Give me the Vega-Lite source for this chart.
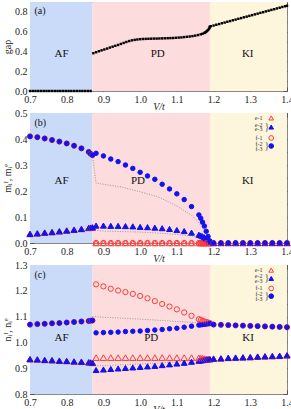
{
"$schema": "https://vega.github.io/schema/vega-lite/v6.json",
"padding": {"left": 2, "top": 1, "right": 5, "bottom": 0},
"bounds": "flush",
"spacing": 22,
"config": {
  "font": "Liberation Serif",
  "view": {"stroke": "#888", "strokeWidth": 1},
  "axis": {"labelFont": "Liberation Serif", "labelFontSize": 10, "labelColor": "#222", "titleFont": "Liberation Serif", "titleFontSize": 10, "titleFontWeight": "normal", "titleColor": "#222", "tickColor": "#555", "tickSize": -4, "labelPadding": 7, "domain": false, "grid": false, "labelFlush": false, "labelOverlap": false, "zindex": 1}
},
"resolve": {"scale": {"shape": "independent", "fill": "independent", "stroke": "independent", "size": "independent", "color": "independent"}},
"datasets": {
  "regions": [{"x0": 0.7, "x1": 0.87, "r": "AF"}, {"x0": 0.87, "x1": 1.19, "r": "PD"}, {"x0": 1.19, "x1": 1.4, "r": "KI"}],
  "lab_a": [{"x": 0.786, "y": 0.376, "t": "AF"}, {"x": 1.048, "y": 0.376, "t": "PD"}, {"x": 1.293, "y": 0.376, "t": "KI"}],
  "lab_b": [{"x": 0.786, "y": 0.237, "t": "AF"}, {"x": 0.994, "y": 0.237, "t": "PD"}, {"x": 1.293, "y": 0.237, "t": "KI"}],
  "lab_c": [{"x": 0.786, "y": 1.018, "t": "AF"}, {"x": 1.03, "y": 1.018, "t": "PD"}, {"x": 1.294, "y": 1.018, "t": "KI"}],
  "pa": [{"x": 0.712, "y": 0.81, "t": "(a)"}],
  "pb": [{"x": 0.712, "y": 0.46, "t": "(b)"}],
  "pc": [{"x": 0.712, "y": 1.26, "t": "(c)"}],
  "legb_sym": [{"x": 1.357, "y": 0.481, "s": "e1"}, {"x": 1.357, "y": 0.446, "s": "e23"}, {"x": 1.357, "y": 0.404, "s": "f1"}, {"x": 1.357, "y": 0.373, "s": "f23"}],
  "legb_txt": [{"x": 1.333, "y": 0.481, "t": "e-1"}, {"x": 1.333, "y": 0.455, "t": "e-2"}, {"x": 1.333, "y": 0.438, "t": "e-3"}, {"x": 1.333, "y": 0.404, "t": "f-1"}, {"x": 1.333, "y": 0.381, "t": "f-2"}, {"x": 1.333, "y": 0.363, "t": "f-3"}],
  "legb_br": [{"x": 1.339, "y": 0.446, "t": "}"}, {"x": 1.339, "y": 0.372, "t": "}"}],
  "legc_sym": [{"x": 1.357, "y": 1.280, "s": "e1"}, {"x": 1.357, "y": 1.248, "s": "e23"}, {"x": 1.357, "y": 1.209, "s": "f1"}, {"x": 1.357, "y": 1.179, "s": "f23"}],
  "legc_txt": [{"x": 1.333, "y": 1.280, "t": "e-1"}, {"x": 1.333, "y": 1.257, "t": "e-2"}, {"x": 1.333, "y": 1.239, "t": "e-3"}, {"x": 1.333, "y": 1.209, "t": "f-1"}, {"x": 1.333, "y": 1.187, "t": "f-2"}, {"x": 1.333, "y": 1.170, "t": "f-3"}],
  "legc_br": [{"x": 1.339, "y": 1.248, "t": "}"}, {"x": 1.339, "y": 1.178, "t": "}"}],
  "gap": [
    {"V": 0.7, "g": 0}, {"V": 0.7075, "g": 0}, {"V": 0.715, "g": 0}, {"V": 0.7225, "g": 0}, {"V": 0.73, "g": 0}, {"V": 0.7375, "g": 0}, {"V": 0.745, "g": 0}, {"V": 0.7525, "g": 0}, {"V": 0.76, "g": 0}, {"V": 0.7675, "g": 0}, {"V": 0.775, "g": 0}, {"V": 0.7825, "g": 0}, {"V": 0.79, "g": 0}, {"V": 0.7975, "g": 0}, {"V": 0.805, "g": 0}, {"V": 0.8125, "g": 0}, {"V": 0.82, "g": 0}, {"V": 0.8275, "g": 0}, {"V": 0.835, "g": 0}, {"V": 0.8425, "g": 0}, {"V": 0.85, "g": 0}, {"V": 0.8575, "g": 0}, {"V": 0.865, "g": 0},
    {"V": 0.8725, "g": 0.382}, {"V": 0.88, "g": 0.392}, {"V": 0.8875, "g": 0.402}, {"V": 0.895, "g": 0.411}, {"V": 0.9025, "g": 0.42}, {"V": 0.91, "g": 0.429}, {"V": 0.9175, "g": 0.439}, {"V": 0.925, "g": 0.448}, {"V": 0.9325, "g": 0.457}, {"V": 0.94, "g": 0.466}, {"V": 0.9475, "g": 0.476}, {"V": 0.955, "g": 0.486}, {"V": 0.9625, "g": 0.496}, {"V": 0.97, "g": 0.505}, {"V": 0.9775, "g": 0.512}, {"V": 0.985, "g": 0.517}, {"V": 0.9925, "g": 0.521}, {"V": 1.0, "g": 0.524}, {"V": 1.0075, "g": 0.526}, {"V": 1.015, "g": 0.527}, {"V": 1.0225, "g": 0.528}, {"V": 1.03, "g": 0.529}, {"V": 1.0375, "g": 0.53}, {"V": 1.045, "g": 0.53}, {"V": 1.0525, "g": 0.531}, {"V": 1.06, "g": 0.532}, {"V": 1.0675, "g": 0.533}, {"V": 1.075, "g": 0.534}, {"V": 1.0825, "g": 0.535}, {"V": 1.09, "g": 0.536}, {"V": 1.0975, "g": 0.538}, {"V": 1.105, "g": 0.54}, {"V": 1.1125, "g": 0.542}, {"V": 1.12, "g": 0.545}, {"V": 1.1275, "g": 0.548}, {"V": 1.135, "g": 0.551}, {"V": 1.1425, "g": 0.555}, {"V": 1.15, "g": 0.56}, {"V": 1.1575, "g": 0.566}, {"V": 1.165, "g": 0.573}, {"V": 1.17, "g": 0.579}, {"V": 1.175, "g": 0.587}, {"V": 1.1775, "g": 0.593}, {"V": 1.18, "g": 0.6}, {"V": 1.1825, "g": 0.608}, {"V": 1.185, "g": 0.617}, {"V": 1.1875, "g": 0.628}, {"V": 1.189, "g": 0.64}, {"V": 1.19, "g": 0.652},
    {"V": 1.1925, "g": 0.655}, {"V": 1.2, "g": 0.662}, {"V": 1.2075, "g": 0.67}, {"V": 1.215, "g": 0.677}, {"V": 1.2225, "g": 0.685}, {"V": 1.23, "g": 0.692}, {"V": 1.2375, "g": 0.7}, {"V": 1.245, "g": 0.707}, {"V": 1.2525, "g": 0.715}, {"V": 1.26, "g": 0.722}, {"V": 1.2675, "g": 0.73}, {"V": 1.275, "g": 0.737}, {"V": 1.2825, "g": 0.745}, {"V": 1.29, "g": 0.752}, {"V": 1.2975, "g": 0.76}, {"V": 1.305, "g": 0.767}, {"V": 1.3125, "g": 0.775}, {"V": 1.32, "g": 0.782}, {"V": 1.3275, "g": 0.79}, {"V": 1.335, "g": 0.797}, {"V": 1.3425, "g": 0.805}, {"V": 1.35, "g": 0.812}, {"V": 1.3575, "g": 0.82}, {"V": 1.365, "g": 0.827}, {"V": 1.3725, "g": 0.835}, {"V": 1.38, "g": 0.842}, {"V": 1.3875, "g": 0.85}, {"V": 1.395, "g": 0.857}, {"V": 1.4, "g": 0.862}
  ],
  "b": [
    {"V": 0.70, "e1": 0.035, "e23": 0.035, "f1": 0.410, "f23": 0.410},
    {"V": 0.72, "e1": 0.037, "e23": 0.037, "f1": 0.407, "f23": 0.407},
    {"V": 0.74, "e1": 0.040, "e23": 0.040, "f1": 0.402, "f23": 0.402},
    {"V": 0.76, "e1": 0.042, "e23": 0.042, "f1": 0.396, "f23": 0.396},
    {"V": 0.78, "e1": 0.045, "e23": 0.045, "f1": 0.390, "f23": 0.390},
    {"V": 0.80, "e1": 0.048, "e23": 0.048, "f1": 0.383, "f23": 0.383},
    {"V": 0.82, "e1": 0.051, "e23": 0.051, "f1": 0.374, "f23": 0.374},
    {"V": 0.84, "e1": 0.054, "e23": 0.054, "f1": 0.364, "f23": 0.364},
    {"V": 0.86, "e1": 0.058, "e23": 0.058, "f1": 0.350, "f23": 0.350},
    {"V": 0.865, "e1": 0.059, "e23": 0.059, "f1": 0.343, "f23": 0.343},
    {"V": 0.87, "e1": 0.060, "e23": 0.060, "f1": 0.338, "f23": 0.338},
    {"V": 0.88, "e1": 0, "e23": 0.067, "f1": 0, "f23": 0.345},
    {"V": 0.90, "e1": 0, "e23": 0.067, "f1": 0, "f23": 0.335},
    {"V": 0.92, "e1": 0, "e23": 0.066, "f1": 0, "f23": 0.323},
    {"V": 0.94, "e1": 0, "e23": 0.066, "f1": 0, "f23": 0.313},
    {"V": 0.96, "e1": 0, "e23": 0.065, "f1": 0, "f23": 0.300},
    {"V": 0.98, "e1": 0, "e23": 0.064, "f1": 0, "f23": 0.287},
    {"V": 1.00, "e1": 0, "e23": 0.062, "f1": 0, "f23": 0.272},
    {"V": 1.02, "e1": 0, "e23": 0.061, "f1": 0, "f23": 0.258},
    {"V": 1.04, "e1": 0, "e23": 0.059, "f1": 0, "f23": 0.245},
    {"V": 1.06, "e1": 0, "e23": 0.057, "f1": 0, "f23": 0.226},
    {"V": 1.08, "e1": 0, "e23": 0.054, "f1": 0, "f23": 0.208},
    {"V": 1.10, "e1": 0, "e23": 0.050, "f1": 0, "f23": 0.189},
    {"V": 1.12, "e1": 0, "e23": 0.046, "f1": 0, "f23": 0.167},
    {"V": 1.14, "e1": 0, "e23": 0.040, "f1": 0, "f23": 0.140},
    {"V": 1.16, "e1": 0, "e23": 0.032, "f1": 0, "f23": 0.108},
    {"V": 1.165, "e1": 0, "e23": 0.029, "f1": 0, "f23": 0.095},
    {"V": 1.17, "e1": 0, "e23": 0.026, "f1": 0, "f23": 0.080},
    {"V": 1.175, "e1": 0, "e23": 0.022, "f1": 0, "f23": 0.065},
    {"V": 1.18, "e1": 0, "e23": 0.017, "f1": 0, "f23": 0.045},
    {"V": 1.185, "e1": 0, "e23": 0.012, "f1": 0, "f23": 0.025},
    {"V": 1.19, "e1": 0, "e23": 0.005, "f1": 0, "f23": 0.008},
    {"V": 1.20, "e1": 0, "e23": 0, "f1": 0, "f23": 0},
    {"V": 1.22, "e1": 0, "e23": 0, "f1": 0, "f23": 0},
    {"V": 1.24, "e1": 0, "e23": 0, "f1": 0, "f23": 0},
    {"V": 1.26, "e1": 0, "e23": 0, "f1": 0, "f23": 0},
    {"V": 1.28, "e1": 0, "e23": 0, "f1": 0, "f23": 0},
    {"V": 1.30, "e1": 0, "e23": 0, "f1": 0, "f23": 0},
    {"V": 1.32, "e1": 0, "e23": 0, "f1": 0, "f23": 0},
    {"V": 1.34, "e1": 0, "e23": 0, "f1": 0, "f23": 0},
    {"V": 1.36, "e1": 0, "e23": 0, "f1": 0, "f23": 0},
    {"V": 1.38, "e1": 0, "e23": 0, "f1": 0, "f23": 0},
    {"V": 1.40, "e1": 0, "e23": 0, "f1": 0, "f23": 0}
  ],
  "c": [
    {"V": 0.70, "e1": 0.935, "e23": 0.935, "f1": 1.069, "f23": 1.069},
    {"V": 0.72, "e1": 0.934, "e23": 0.934, "f1": 1.071, "f23": 1.071},
    {"V": 0.74, "e1": 0.932, "e23": 0.932, "f1": 1.072, "f23": 1.072},
    {"V": 0.76, "e1": 0.931, "e23": 0.931, "f1": 1.074, "f23": 1.074},
    {"V": 0.78, "e1": 0.929, "e23": 0.929, "f1": 1.075, "f23": 1.075},
    {"V": 0.80, "e1": 0.928, "e23": 0.928, "f1": 1.077, "f23": 1.077},
    {"V": 0.82, "e1": 0.926, "e23": 0.926, "f1": 1.079, "f23": 1.079},
    {"V": 0.84, "e1": 0.925, "e23": 0.925, "f1": 1.081, "f23": 1.081},
    {"V": 0.86, "e1": 0.923, "e23": 0.923, "f1": 1.083, "f23": 1.083},
    {"V": 0.865, "e1": 0.922, "e23": 0.922, "f1": 1.084, "f23": 1.084},
    {"V": 0.87, "e1": 0.921, "e23": 0.921, "f1": 1.085, "f23": 1.085},
    {"V": 0.88, "e1": 0.941, "e23": 0.893, "f1": 1.225, "f23": 1.037},
    {"V": 0.90, "e1": 0.941, "e23": 0.895, "f1": 1.217, "f23": 1.038},
    {"V": 0.92, "e1": 0.941, "e23": 0.897, "f1": 1.208, "f23": 1.039},
    {"V": 0.94, "e1": 0.941, "e23": 0.899, "f1": 1.201, "f23": 1.040},
    {"V": 0.96, "e1": 0.941, "e23": 0.901, "f1": 1.195, "f23": 1.042},
    {"V": 0.98, "e1": 0.941, "e23": 0.903, "f1": 1.188, "f23": 1.043},
    {"V": 1.00, "e1": 0.941, "e23": 0.905, "f1": 1.180, "f23": 1.044},
    {"V": 1.02, "e1": 0.941, "e23": 0.907, "f1": 1.171, "f23": 1.046},
    {"V": 1.04, "e1": 0.941, "e23": 0.909, "f1": 1.160, "f23": 1.048},
    {"V": 1.06, "e1": 0.941, "e23": 0.912, "f1": 1.149, "f23": 1.050},
    {"V": 1.08, "e1": 0.941, "e23": 0.915, "f1": 1.139, "f23": 1.053},
    {"V": 1.10, "e1": 0.941, "e23": 0.918, "f1": 1.128, "f23": 1.055},
    {"V": 1.12, "e1": 0.941, "e23": 0.921, "f1": 1.116, "f23": 1.059},
    {"V": 1.14, "e1": 0.941, "e23": 0.925, "f1": 1.103, "f23": 1.063},
    {"V": 1.16, "e1": 0.940, "e23": 0.929, "f1": 1.090, "f23": 1.067},
    {"V": 1.165, "e1": 0.939, "e23": 0.930, "f1": 1.087, "f23": 1.068},
    {"V": 1.17, "e1": 0.938, "e23": 0.931, "f1": 1.084, "f23": 1.069},
    {"V": 1.175, "e1": 0.937, "e23": 0.932, "f1": 1.081, "f23": 1.070},
    {"V": 1.18, "e1": 0.936, "e23": 0.933, "f1": 1.079, "f23": 1.071},
    {"V": 1.185, "e1": 0.936, "e23": 0.934, "f1": 1.077, "f23": 1.072},
    {"V": 1.19, "e1": 0.935, "e23": 0.935, "f1": 1.075, "f23": 1.073},
    {"V": 1.20, "e1": 0.937, "e23": 0.937, "f1": 1.069, "f23": 1.069},
    {"V": 1.22, "e1": 0.938, "e23": 0.938, "f1": 1.068, "f23": 1.068},
    {"V": 1.24, "e1": 0.940, "e23": 0.940, "f1": 1.067, "f23": 1.067},
    {"V": 1.26, "e1": 0.941, "e23": 0.941, "f1": 1.066, "f23": 1.066},
    {"V": 1.28, "e1": 0.942, "e23": 0.942, "f1": 1.065, "f23": 1.065},
    {"V": 1.30, "e1": 0.943, "e23": 0.943, "f1": 1.064, "f23": 1.064},
    {"V": 1.32, "e1": 0.945, "e23": 0.945, "f1": 1.063, "f23": 1.063},
    {"V": 1.34, "e1": 0.946, "e23": 0.946, "f1": 1.062, "f23": 1.062},
    {"V": 1.36, "e1": 0.947, "e23": 0.947, "f1": 1.061, "f23": 1.061},
    {"V": 1.38, "e1": 0.948, "e23": 0.948, "f1": 1.060, "f23": 1.060},
    {"V": 1.40, "e1": 0.950, "e23": 0.950, "f1": 1.059, "f23": 1.059}
  ],
  "gb": [
    {"V": 0.87, "v": 0.338, "g": "f"}, {"V": 0.88, "v": 0.23, "g": "f"}, {"V": 0.90, "v": 0.226, "g": "f"}, {"V": 0.95, "v": 0.215, "g": "f"}, {"V": 1.00, "v": 0.197, "g": "f"}, {"V": 1.05, "v": 0.177, "g": "f"}, {"V": 1.10, "v": 0.142, "g": "f"}, {"V": 1.14, "v": 0.107, "g": "f"}, {"V": 1.16, "v": 0.078, "g": "f"}, {"V": 1.18, "v": 0.035, "g": "f"}, {"V": 1.19, "v": 0.005, "g": "f"},
    {"V": 0.87, "v": 0.05, "g": "e"}, {"V": 0.90, "v": 0.046, "g": "e"}, {"V": 1.00, "v": 0.042, "g": "e"}, {"V": 1.05, "v": 0.038, "g": "e"}, {"V": 1.10, "v": 0.033, "g": "e"}, {"V": 1.14, "v": 0.027, "g": "e"}, {"V": 1.16, "v": 0.02, "g": "e"}, {"V": 1.18, "v": 0.01, "g": "e"}, {"V": 1.19, "v": 0.003, "g": "e"}
  ],
  "gc": [
    {"V": 0.87, "v": 1.100, "g": "f"}, {"V": 0.95, "v": 1.094, "g": "f"}, {"V": 1.00, "v": 1.090, "g": "f"}, {"V": 1.05, "v": 1.086, "g": "f"}, {"V": 1.10, "v": 1.081, "g": "f"}, {"V": 1.15, "v": 1.077, "g": "f"}, {"V": 1.19, "v": 1.074, "g": "f"},
    {"V": 0.87, "v": 0.909, "g": "e"}, {"V": 0.95, "v": 0.913, "g": "e"}, {"V": 1.00, "v": 0.917, "g": "e"}, {"V": 1.05, "v": 0.920, "g": "e"}, {"V": 1.10, "v": 0.925, "g": "e"}, {"V": 1.15, "v": 0.930, "g": "e"}, {"V": 1.19, "v": 0.935, "g": "e"}
  ]
},
"vconcat": [
  {
    "width": 257, "height": 89,
    "resolve": {"axis": {"x": "independent", "y": "independent"}},
    "layer": [
      {"data": {"name": "regions"}, "mark": {"type": "rect"},
       "encoding": {"x": {"field": "x0", "type": "quantitative", "scale": {"domain": [0.7, 1.4], "nice": false, "zero": false}, "axis": null}, "x2": {"field": "x1"},
                    "color": {"field": "r", "type": "nominal", "scale": {"domain": ["AF", "PD", "KI"], "range": ["#c9dbf8", "#fcdcdc", "#fdf6dd"]}, "legend": null}}},
      {"data": {"name": "lab_a"}, "mark": {"type": "text", "font": "Liberation Serif", "fontSize": 11, "baseline": "middle", "color": "#111"},
       "encoding": {"x": {"field": "x", "type": "quantitative", "scale": {"domain": [0.7, 1.4], "nice": false, "zero": false}, "axis": {"orient": "top", "values": [0.7, 0.8, 0.9, 1.0, 1.1, 1.2, 1.3, 1.4], "labels": false, "title": null}},
                    "y": {"field": "y", "type": "quantitative", "scale": {"domain": [0, 0.9], "nice": false, "zero": false}, "axis": {"orient": "right", "values": [0, 0.1, 0.2, 0.3, 0.4, 0.5, 0.6, 0.7, 0.8], "labels": false, "title": null}},
                    "text": {"field": "t"}}},
      {"data": {"name": "gap"}, "mark": {"type": "square", "size": 6, "color": "#000", "opacity": 1},
       "encoding": {"x": {"field": "V", "type": "quantitative", "scale": {"domain": [0.7, 1.4], "nice": false, "zero": false}, "axis": {"orient": "bottom", "values": [0.7, 0.8, 0.9, 1.0, 1.1, 1.2, 1.3, 1.4], "format": ".1f", "title": "V/t", "titleFontStyle": "italic", "titlePadding": -3}},
                    "y": {"field": "g", "type": "quantitative", "scale": {"domain": [0, 0.9], "nice": false, "zero": false}, "axis": {"orient": "left", "values": [0, 0.1, 0.2, 0.3, 0.4, 0.5, 0.6, 0.7, 0.8], "labelExpr": "round(datum.value*10) % 2 == 0 ? format(datum.value, '.1f') : ''", "title": "gap", "titlePadding": 2}}}},
      {"data": {"name": "pa"}, "mark": {"type": "text", "font": "Liberation Serif", "fontSize": 10, "align": "left", "baseline": "middle", "color": "#111"},
       "encoding": {"x": {"field": "x", "type": "quantitative", "axis": null}, "y": {"field": "y", "type": "quantitative", "axis": null}, "text": {"field": "t"}}}
    ]
  },
  {
    "width": 257, "height": 130,
    "resolve": {"axis": {"x": "independent", "y": "independent"}},
    "layer": [
      {"data": {"name": "regions"}, "mark": {"type": "rect"},
       "encoding": {"x": {"field": "x0", "type": "quantitative", "scale": {"domain": [0.7, 1.4], "nice": false, "zero": false}, "axis": null}, "x2": {"field": "x1"},
                    "color": {"field": "r", "type": "nominal", "scale": {"domain": ["AF", "PD", "KI"], "range": ["#c9dbf8", "#fcdcdc", "#fdf6dd"]}, "legend": null}}},
      {"data": {"name": "lab_b"}, "mark": {"type": "text", "font": "Liberation Serif", "fontSize": 11, "baseline": "middle", "color": "#111"},
       "encoding": {"x": {"field": "x", "type": "quantitative", "scale": {"domain": [0.7, 1.4], "nice": false, "zero": false}, "axis": {"orient": "top", "values": [0.7, 0.8, 0.9, 1.0, 1.1, 1.2, 1.3, 1.4], "labels": false, "title": null}},
                    "y": {"field": "y", "type": "quantitative", "scale": {"domain": [0, 0.5], "nice": false, "zero": false}, "axis": {"orient": "right", "values": [0, 0.05, 0.1, 0.15, 0.2, 0.25, 0.3, 0.35, 0.4, 0.45, 0.5], "labels": false, "title": null}},
                    "text": {"field": "t"}}},
      {"data": {"name": "gb"}, "mark": {"type": "line", "color": "#999", "strokeWidth": 1, "strokeDash": [1, 1.5]},
       "encoding": {"x": {"field": "V", "type": "quantitative", "axis": null}, "y": {"field": "v", "type": "quantitative", "axis": null}, "detail": {"field": "g"}}},
      {"data": {"name": "b"}, "transform": [{"fold": ["e1", "e23", "f1", "f23"], "as": ["s", "v"]}],
       "mark": {"type": "point", "opacity": 1, "strokeWidth": 1},
       "encoding": {"x": {"field": "V", "type": "quantitative", "scale": {"domain": [0.7, 1.4], "nice": false, "zero": false}, "axis": {"orient": "bottom", "values": [0.7, 0.8, 0.9, 1.0, 1.1, 1.2, 1.3, 1.4], "format": ".1f", "title": "V/t", "titleFontStyle": "italic", "titlePadding": -3}},
                    "y": {"field": "v", "type": "quantitative", "scale": {"domain": [0, 0.5], "nice": false, "zero": false}, "axis": {"orient": "left", "values": [0, 0.05, 0.1, 0.15, 0.2, 0.25, 0.3, 0.35, 0.4, 0.45, 0.5], "labelExpr": "round(datum.value*20) % 2 == 0 ? format(datum.value, '.1f') : ''", "title": "mᵢᶠ, mᵢᵉ", "titlePadding": 2}},
                    "shape": {"field": "s", "type": "nominal", "scale": {"domain": ["e1", "e23", "f1", "f23"], "range": ["triangle-up", "triangle-up", "circle", "circle"]}, "legend": null},
                    "fill": {"field": "s", "type": "nominal", "scale": {"domain": ["e1", "e23", "f1", "f23"], "range": ["transparent", "#1212ee", "transparent", "#1212ee"]}, "legend": null},
                    "stroke": {"field": "s", "type": "nominal", "scale": {"domain": ["e1", "e23", "f1", "f23"], "range": ["#ff3a3a", "#1212ee", "#ff3a3a", "#1212ee"]}, "legend": null},
                    "size": {"field": "s", "type": "nominal", "scale": {"domain": ["e1", "e23", "f1", "f23"], "range": [42, 20, 40, 16]}, "legend": null}}},
      {"data": {"name": "legb_sym"}, "mark": {"type": "point", "opacity": 1, "strokeWidth": 1},
       "encoding": {"x": {"field": "x", "type": "quantitative", "axis": null}, "y": {"field": "y", "type": "quantitative", "axis": null},
                    "shape": {"field": "s", "type": "nominal", "legend": null}, "fill": {"field": "s", "type": "nominal", "legend": null}, "stroke": {"field": "s", "type": "nominal", "legend": null},
                    "size": {"value": 22}}},
      {"data": {"name": "legb_txt"}, "mark": {"type": "text", "font": "Liberation Serif", "fontSize": 6, "align": "right", "baseline": "middle", "color": "#333"},
       "encoding": {"x": {"field": "x", "type": "quantitative", "axis": null}, "y": {"field": "y", "type": "quantitative", "axis": null}, "text": {"field": "t"}}},
      {"data": {"name": "legb_br"}, "mark": {"type": "text", "font": "Liberation Serif", "fontSize": 10, "align": "left", "baseline": "middle", "color": "#555"},
       "encoding": {"x": {"field": "x", "type": "quantitative", "axis": null}, "y": {"field": "y", "type": "quantitative", "axis": null}, "text": {"field": "t"}}},
      {"data": {"name": "pb"}, "mark": {"type": "text", "font": "Liberation Serif", "fontSize": 10, "align": "left", "baseline": "middle", "color": "#111"},
       "encoding": {"x": {"field": "x", "type": "quantitative", "axis": null}, "y": {"field": "y", "type": "quantitative", "axis": null}, "text": {"field": "t"}}}
    ]
  },
  {
    "width": 257, "height": 129,
    "resolve": {"axis": {"x": "independent", "y": "independent"}},
    "layer": [
      {"data": {"name": "regions"}, "mark": {"type": "rect"},
       "encoding": {"x": {"field": "x0", "type": "quantitative", "scale": {"domain": [0.7, 1.4], "nice": false, "zero": false}, "axis": null}, "x2": {"field": "x1"},
                    "color": {"field": "r", "type": "nominal", "scale": {"domain": ["AF", "PD", "KI"], "range": ["#c9dbf8", "#fcdcdc", "#fdf6dd"]}, "legend": null}}},
      {"data": {"name": "lab_c"}, "mark": {"type": "text", "font": "Liberation Serif", "fontSize": 11, "baseline": "middle", "color": "#111"},
       "encoding": {"x": {"field": "x", "type": "quantitative", "scale": {"domain": [0.7, 1.4], "nice": false, "zero": false}, "axis": {"orient": "top", "values": [0.7, 0.8, 0.9, 1.0, 1.1, 1.2, 1.3, 1.4], "labels": false, "title": null}},
                    "y": {"field": "y", "type": "quantitative", "scale": {"domain": [0.8, 1.3], "nice": false, "zero": false}, "axis": {"orient": "right", "values": [0.8, 0.85, 0.9, 0.95, 1.0, 1.05, 1.1, 1.15, 1.2, 1.25, 1.3], "labels": false, "title": null}},
                    "text": {"field": "t"}}},
      {"data": {"name": "gc"}, "mark": {"type": "line", "color": "#999", "strokeWidth": 1, "strokeDash": [1, 1.5]},
       "encoding": {"x": {"field": "V", "type": "quantitative", "axis": null}, "y": {"field": "v", "type": "quantitative", "axis": null}, "detail": {"field": "g"}}},
      {"data": {"name": "c"}, "transform": [{"fold": ["e1", "e23", "f1", "f23"], "as": ["s", "v"]}],
       "mark": {"type": "point", "opacity": 1, "strokeWidth": 1},
       "encoding": {"x": {"field": "V", "type": "quantitative", "scale": {"domain": [0.7, 1.4], "nice": false, "zero": false}, "axis": {"orient": "bottom", "values": [0.7, 0.8, 0.9, 1.0, 1.1, 1.2, 1.3, 1.4], "format": ".1f", "title": "V/t", "titleFontStyle": "italic", "titlePadding": -3}},
                    "y": {"field": "v", "type": "quantitative", "scale": {"domain": [0.8, 1.3], "nice": false, "zero": false}, "axis": {"orient": "left", "values": [0.8, 0.85, 0.9, 0.95, 1.0, 1.05, 1.1, 1.15, 1.2, 1.25, 1.3], "labelExpr": "round(datum.value*20) % 2 == 0 ? format(datum.value, '.1f') : ''", "title": "nᵢᶠ, nᵢᵉ", "titlePadding": 2}},
                    "shape": {"field": "s", "type": "nominal", "scale": {"domain": ["e1", "e23", "f1", "f23"], "range": ["triangle-up", "triangle-up", "circle", "circle"]}, "legend": null},
                    "fill": {"field": "s", "type": "nominal", "scale": {"domain": ["e1", "e23", "f1", "f23"], "range": ["transparent", "#1212ee", "transparent", "#1212ee"]}, "legend": null},
                    "stroke": {"field": "s", "type": "nominal", "scale": {"domain": ["e1", "e23", "f1", "f23"], "range": ["#ff3a3a", "#1212ee", "#ff3a3a", "#1212ee"]}, "legend": null},
                    "size": {"field": "s", "type": "nominal", "scale": {"domain": ["e1", "e23", "f1", "f23"], "range": [42, 20, 40, 16]}, "legend": null}}},
      {"data": {"name": "legc_sym"}, "mark": {"type": "point", "opacity": 1, "strokeWidth": 1},
       "encoding": {"x": {"field": "x", "type": "quantitative", "axis": null}, "y": {"field": "y", "type": "quantitative", "axis": null},
                    "shape": {"field": "s", "type": "nominal", "legend": null}, "fill": {"field": "s", "type": "nominal", "legend": null}, "stroke": {"field": "s", "type": "nominal", "legend": null},
                    "size": {"value": 22}}},
      {"data": {"name": "legc_txt"}, "mark": {"type": "text", "font": "Liberation Serif", "fontSize": 6, "align": "right", "baseline": "middle", "color": "#333"},
       "encoding": {"x": {"field": "x", "type": "quantitative", "axis": null}, "y": {"field": "y", "type": "quantitative", "axis": null}, "text": {"field": "t"}}},
      {"data": {"name": "legc_br"}, "mark": {"type": "text", "font": "Liberation Serif", "fontSize": 10, "align": "left", "baseline": "middle", "color": "#555"},
       "encoding": {"x": {"field": "x", "type": "quantitative", "axis": null}, "y": {"field": "y", "type": "quantitative", "axis": null}, "text": {"field": "t"}}},
      {"data": {"name": "pc"}, "mark": {"type": "text", "font": "Liberation Serif", "fontSize": 10, "align": "left", "baseline": "middle", "color": "#111"},
       "encoding": {"x": {"field": "x", "type": "quantitative", "axis": null}, "y": {"field": "y", "type": "quantitative", "axis": null}, "text": {"field": "t"}}}
    ]
  }
]
}
